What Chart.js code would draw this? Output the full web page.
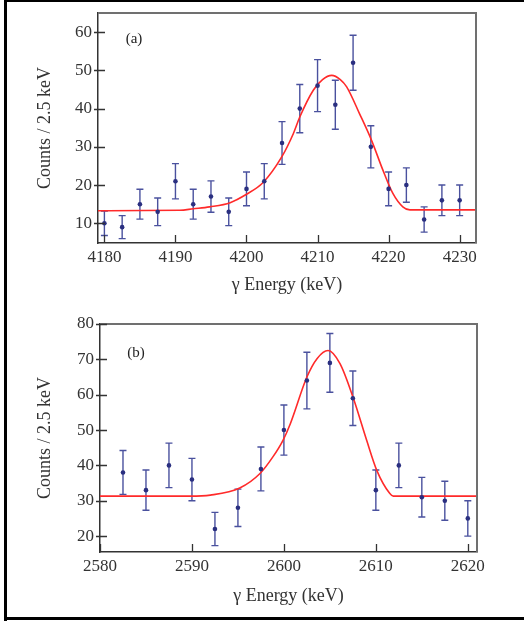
<!DOCTYPE html>
<html>
<head>
<meta charset="utf-8">
<script src="https://cdn.jsdelivr.net/npm/chart.js@4.4.1/dist/chart.umd.min.js"></script>
<style>
  html, body { margin: 0; padding: 0; background: #fff; }
  body { width: 524px; height: 621px; position: relative; overflow: hidden; }
  .frame { position: absolute; background: #000; }
  canvas { position: absolute; left: 0; }
</style>
</head>
<body>
<div class="frame" style="left:4px;top:0;width:3px;height:621px;"></div>
<div class="frame" style="left:4px;top:0;width:520px;height:2px;"></div>
<div class="frame" style="left:4px;top:617px;width:520px;height:3px;"></div>
<div style="position:absolute;left:0;top:0;width:524px;height:300px;"><canvas id="c1" width="524" height="300"></canvas></div>
<div style="position:absolute;left:0;top:310px;width:524px;height:300px;"><canvas id="c2" width="524" height="300"></canvas></div>
<script>
// ---------- Panel (a) ----------
const energyA = [4180, 4182.5, 4185, 4187.5, 4190, 4192.5, 4195, 4197.5, 4200, 4202.5, 4205,
                 4207.5, 4210, 4212.5, 4215, 4217.5, 4220, 4222.5, 4225, 4227.5, 4230];
const countsA = [10, 9, 15, 13, 21, 15, 17, 13, 19, 21, 31, 40, 46, 41, 52, 30, 19, 20, 11, 16, 16];
const errorsA = [3.2, 3.0, 3.9, 3.6, 4.6, 3.9, 4.1, 3.6, 4.4, 4.6, 5.6, 6.3, 6.8, 6.4, 7.2, 5.5, 4.4, 4.5, 3.3, 4.0, 4.0];
const fitXA = [4179.1, 4190.6, 4192.5, 4194.8, 4197.7, 4200, 4202.3, 4205, 4206.6, 4207.5, 4209.4,
               4210.7, 4212, 4213.2, 4214.1, 4215.9, 4217.6, 4219.2, 4220.6, 4222, 4223, 4232.3];
const fitYA = [13.3, 13.4, 13.8, 14.3, 15.4, 17.6, 20.6, 27.5, 33.5, 37.8, 44.8,
               47.6, 48.7, 47.6, 45.7, 38.7, 31.7, 23.9, 17.8, 14.3, 13.5, 13.5];
const xTicksA = [4180, 4190, 4200, 4210, 4220, 4230];
const yTicksA = [10, 20, 30, 40, 50, 60];

// ---------- Panel (b) ----------
const energyB = [2582.5, 2585, 2587.5, 2590, 2592.5, 2595, 2597.5, 2600, 2602.5, 2605,
                 2607.5, 2610, 2612.5, 2615, 2617.5, 2620];
const countsB = [38, 33, 40, 36, 22, 28, 39, 50, 64, 69, 59, 33, 40, 31, 30, 25];
const errorsB = [6.2, 5.7, 6.3, 6.0, 4.7, 5.3, 6.2, 7.1, 8.0, 8.3, 7.7, 5.7, 6.3, 5.6, 5.5, 5.0];
const fitXB = [2580, 2589.8, 2592, 2595.2, 2597.4, 2598.8, 2599.9, 2600.7, 2602.5, 2603.6,
               2604.8, 2606.1, 2607.5, 2609, 2610.1, 2611.5, 2611.9, 2621];
const fitYB = [31.3, 31.3, 31.6, 33.6, 37.7, 42.4, 47.1, 51.8, 65, 70.2,
               72.5, 68.8, 59.4, 47.1, 38.6, 32.1, 31.3, 31.3];
const xTicksB = [2580, 2590, 2600, 2610, 2620];
const yTicksB = [20, 30, 40, 50, 60, 70, 80];

const xTitle = 'γ Energy (keV)';
const yTitle = 'Counts / 2.5 keV';

const FONT = 'Liberation Serif, "Times New Roman", serif';
const TXT = '#333';

const errorBarPlugin = {
  id: 'errbars',
  beforeDatasetsDraw(chart) {
    const ds = chart.data.datasets[0];
    const xs = chart.scales.x, ys = chart.scales.y;
    const ctx = chart.ctx;
    ctx.save();
    ctx.strokeStyle = '#4a519e';
    ctx.lineWidth = 1.4;
    ds.data.forEach((p, i) => {
      const e = ds.errors[i];
      const px = xs.getPixelForValue(p.x);
      const y1 = ys.getPixelForValue(p.y - e);
      const y2 = ys.getPixelForValue(p.y + e);
      ctx.beginPath();
      ctx.moveTo(px, y1); ctx.lineTo(px, y2);
      ctx.moveTo(px - 3.5, y1); ctx.lineTo(px + 3.5, y1);
      ctx.moveTo(px - 3.5, y2); ctx.lineTo(px + 3.5, y2);
      ctx.stroke();
    });
    ctx.restore();
  }
};

const framePlugin = {
  id: 'frame',
  afterDraw(chart, args, opts) {
    const {ctx, chartArea: a} = chart;
    const xs = chart.scales.x, ys = chart.scales.y;
    ctx.save();
    ctx.strokeStyle = '#707070';
    ctx.lineWidth = 2;
    ctx.beginPath();
    ctx.moveTo(a.left, a.top); ctx.lineTo(a.right, a.top); ctx.lineTo(a.right, a.bottom);
    ctx.stroke();
    ctx.strokeStyle = '#333';
    ctx.lineWidth = 1.3;
    ctx.beginPath();
    xs.ticks.forEach(t => {
      const px = Math.round(xs.getPixelForValue(t.value)) + 0.5;
      ctx.moveTo(px, a.bottom); ctx.lineTo(px, a.bottom - 8);
    });
    ys.ticks.forEach(t => {
      const py = Math.round(ys.getPixelForValue(t.value)) + 0.5;
      ctx.moveTo(a.left - 4, py); ctx.lineTo(a.left + 7, py);
    });
    ctx.stroke();
    ctx.fillStyle = '#222';
    ctx.font = '15px ' + FONT;
    ctx.textAlign = 'center';
    ctx.textBaseline = 'middle';
    ctx.fillText(opts.label, a.left + opts.lx, a.top + opts.ly);
    ctx.restore();
  }
};

function makeChart(id, cfg) {
  const pts = cfg.ex.map((x, i) => ({x, y: cfg.cy[i]}));
  const fit = cfg.fx.map((x, i) => ({x, y: cfg.fy[i]}));
  return new Chart(document.getElementById(id), {
    type: 'scatter',
    data: {
      datasets: [
        { data: pts, errors: cfg.err, showLine: false, pointRadius: 2.3, pointStyle: 'circle',
          backgroundColor: '#2a2f80', borderColor: '#2a2f80', borderWidth: 0 },
        { data: fit, showLine: true, pointRadius: 0, borderColor: '#ff2a2a', borderWidth: 1.6,
          cubicInterpolationMode: 'monotone', fill: false }
      ]
    },
    options: {
      responsive: false,
      animation: false,
      events: [],
      layout: { padding: { left: 0, top: cfg.padTop, right: cfg.padRight, bottom: 0 } },
      plugins: {
        legend: { display: false },
        tooltip: { enabled: false },
        frame: { label: cfg.label, lx: 36, ly: cfg.ly }
      },
      scales: {
        x: {
          type: 'linear', position: 'bottom', min: cfg.xmin, max: cfg.xmax,
          afterBuildTicks: s => { s.ticks = cfg.xt.map(v => ({value: v})); },
          afterFit: s => { s.height = cfg.xh; s.paddingLeft = 0; s.paddingRight = 0; },
          grid: { display: false, drawTicks: false },
          border: { display: true, color: '#333', width: 1.5 },
          ticks: { font: { family: FONT, size: 17 }, color: TXT, padding: 4, maxRotation: 0, autoSkip: false,
                   callback: v => String(v) },
          title: { display: true, text: xTitle, font: { family: FONT, size: 18 }, color: TXT,
                   padding: { top: 0, bottom: cfg.xtp } }
        },
        y: {
          type: 'linear', position: 'left', min: cfg.ymin, max: cfg.ymax,
          afterBuildTicks: s => { s.ticks = cfg.yt.map(v => ({value: v})); },
          afterFit: s => { s.width = cfg.yw; s.paddingTop = 0; s.paddingBottom = 0; },
          grid: { display: false, drawTicks: false },
          border: { display: true, color: '#333', width: 1.5 },
          ticks: { font: { family: FONT, size: 17 }, color: TXT, padding: 6, autoSkip: false,
                   callback: v => String(v) },
          title: { display: true, text: yTitle, font: { family: FONT, size: 18 }, color: TXT,
                   padding: { top: 34, bottom: 0 } }
        }
      }
    },
    plugins: [errorBarPlugin, framePlugin]
  });
}

makeChart('c1', {
  ex: energyA, cy: countsA, err: errorsA, fx: fitXA, fy: fitYA, xt: xTicksA, yt: yTicksA,
  xmin: 4179.1, xmax: 4232.3, ymin: 4.85, ymax: 65,
  padTop: 13, padRight: 48, xh: 57, yw: 98, xtp: 4, label: '(a)', ly: 26
});
makeChart('c2', {
  ex: energyB, cy: countsB, err: errorsB, fx: fitXB, fy: fitYB, xt: xTicksB, yt: yTicksB,
  xmin: 2580, xmax: 2621, ymin: 15.5, ymax: 80,
  padTop: 14, padRight: 47, xh: 58, yw: 100, xtp: 3, label: '(b)', ly: 29
});
</script>
</body>
</html>
